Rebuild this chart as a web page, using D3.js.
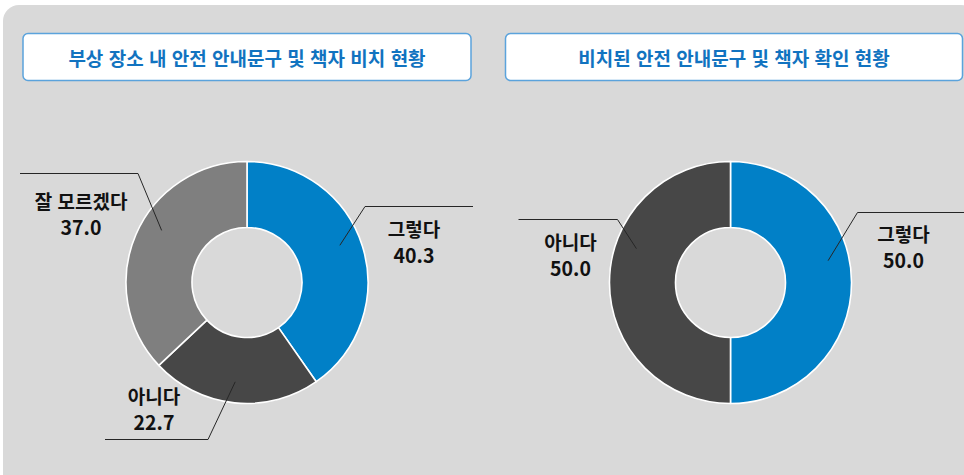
<!DOCTYPE html>
<html lang="ko">
<head>
<meta charset="utf-8">
<script src="https://cdn.jsdelivr.net/npm/d3@7"></script>
<style>
  html, body { margin: 0; padding: 0; background: #ffffff; }
  svg { display: block; }
  text { font-family: "Noto Sans CJK KR", "Noto Sans", sans-serif; }
</style>
</head>
<body>
<svg id="chart" width="964" height="475"></svg>
<script>
// Survey results: left = posting of safety notices at the injury site,
// right = whether the posted notices were checked.
const leftTitle = "부상 장소 내 안전 안내문구 및 책자 비치 현황";
const leftCategories = ["그렇다", "아니다", "잘 모르겠다"];
const leftValues = [40.3, 22.7, 37.0];

const rightTitle = "비치된 안전 안내문구 및 책자 확인 현황";
const rightCategories = ["그렇다", "아니다"];
const rightValues = [50.0, 50.0];

// Slice colours by category
const colorByCategory = { "그렇다": "#0180c7", "아니다": "#474747", "잘 모르겠다": "#7f7f7f" };

// Label placement, relative to each donut centre:
// t = centre of the category line, e = elbow of the leader, h = far end of the
// horizontal leader, f = where inside the slice (0..1 of its angle span) the leader starts.
const leftLabelLayout = [
  { t: [167, -52], e: [118, -76], h: [226, -76], f: 0.47 },
  { t: [-93, 115], e: [-39, 157], h: [-142, 157], f: 0.51 },
  { t: [-166, -80], e: [-109, -109], h: [-227, -109], f: 0.56 }
];
const rightLabelLayout = [
  { t: [173, -47], e: [127, -70], h: [240, -70], f: 0.43 },
  { t: [-160, -39], e: [-113, -63], h: [-212, -63], f: 0.61 }
];

const svg = d3.select("#chart");
const W = 964, H = 475;

// Grey panel
svg.append("rect")
  .attr("x", 3).attr("y", 5)
  .attr("width", W + 10).attr("height", H + 20)
  .attr("rx", 16).attr("ry", 16)
  .attr("fill", "#d9d9d9");

const fmt = d3.format(".1f");
const outerR = 121, innerR = 55, leaderR = 100;
const labelSize = 19, lineGap = 26;

function titleBox(x, w, label) {
  const g = svg.append("g");
  g.append("rect")
    .attr("x", x).attr("y", 33.5)
    .attr("width", w).attr("height", 47)
    .attr("rx", 5).attr("ry", 5)
    .attr("fill", "#ffffff")
    .attr("stroke", "#5ba3dc")
    .attr("stroke-width", 1.5);
  g.append("text")
    .attr("x", x + w / 2).attr("y", 57)
    .attr("text-anchor", "middle")
    .attr("dominant-baseline", "central")
    .attr("fill", "#1173c0")
    .attr("font-size", 19)
    .attr("font-weight", 700)
    .text(label);
}

function donut(cx, cy, categories, values, layout) {
  const data = categories.map((c, i) => ({ category: c, value: values[i] }));
  const pie = d3.pie().sort(null).value(d => d.value);
  const arc = d3.arc().innerRadius(innerR).outerRadius(outerR);
  const arcs = pie(data);
  const g = svg.append("g").attr("transform", `translate(${cx},${cy})`);

  g.selectAll("path.slice")
    .data(arcs)
    .join("path")
    .attr("class", "slice")
    .attr("d", arc)
    .attr("fill", d => colorByCategory[d.data.category])
    .attr("stroke", "#ffffff")
    .attr("stroke-width", 1.6)
    .attr("stroke-linejoin", "round");

  arcs.forEach((a, i) => {
    const L = layout[i];
    const ang = a.startAngle + (a.endAngle - a.startAngle) * L.f;
    const sx = leaderR * Math.sin(ang), sy = -leaderR * Math.cos(ang);
    g.append("polyline")
      .attr("points", [[sx, sy], L.e, L.h].map(p => p.join(",")).join(" "))
      .attr("fill", "none")
      .attr("stroke", "#262626")
      .attr("stroke-width", 1);

    const base = L.t[1] + 6.5;
    g.append("text")
      .attr("x", L.t[0]).attr("y", base)
      .attr("text-anchor", "middle")
      .attr("fill", "#111111")
      .attr("font-size", labelSize)
      .attr("font-weight", 700)
      .text(a.data.category);
    g.append("text")
      .attr("x", L.t[0]).attr("y", base + lineGap)
      .attr("text-anchor", "middle")
      .attr("fill", "#111111")
      .attr("font-family", "'Noto Sans', sans-serif")
      .attr("font-size", labelSize + 0.5)
      .attr("font-weight", 700)
      .text(fmt(a.data.value));
  });
}

titleBox(23, 448, leftTitle);
titleBox(505.5, 457, rightTitle);

donut(247, 282.5, leftCategories, leftValues, leftLabelLayout);
donut(730.5, 282.5, rightCategories, rightValues, rightLabelLayout);
</script>
</body>
</html>
